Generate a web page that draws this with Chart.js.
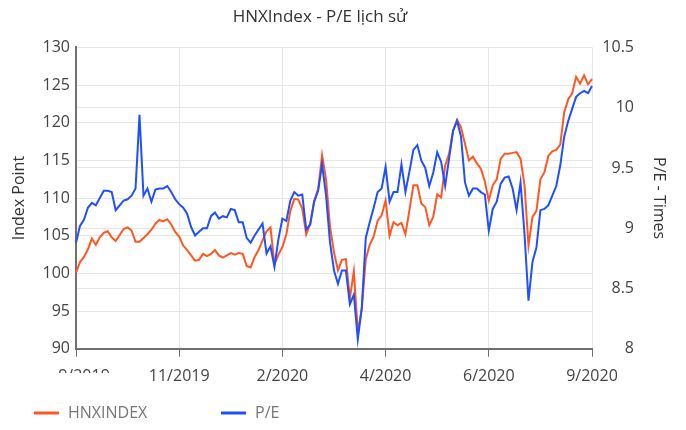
<!DOCTYPE html>
<html>
<head>
<meta charset="utf-8">
<script src="https://cdn.jsdelivr.net/npm/chart.js@4.4.1/dist/chart.umd.min.js"></script>
<style>
  html, body { margin: 0; padding: 0; background: #fff; }
</style>
</head>
<body>
<canvas id="chart" width="686" height="430"></canvas>
<script>
// Month labels shown on the x axis, one every tickEvery points.
const tickLabels = ["9/2019", "11/2019", "2/2020", "4/2020", "6/2020", "9/2020"];
const tickEvery = 26;

// HNXINDEX close (left axis).
const hnxIndex = [
  100.1, 101.5, 102.2, 103.2, 104.6, 103.8, 104.8, 105.4, 105.6, 104.8,
  104.3, 105.1, 105.9, 106.1, 105.7, 104.2, 104.2, 104.7, 105.2, 105.8,
  106.6, 107.1, 106.9, 107.2, 106.5, 105.5, 104.9, 103.7, 103.1, 102.4,
  101.7, 101.8, 102.6, 102.3, 102.6, 103.1, 102.4, 102.1, 102.4, 102.7,
  102.5, 102.7, 102.6, 101.0, 100.8, 102.2, 103.1, 104.4, 105.6, 106.1,
  101.2, 102.5, 103.5, 105.2, 108.3, 109.9, 109.8, 108.6, 105.2, 106.6,
  109.6, 111.2, 115.7, 112.5, 106.2, 102.8, 100.4, 101.8, 101.9, 96.7,
  100.3, 92.2, 95.3, 101.9, 103.8, 104.9, 107.0, 107.7, 109.7, 105.0,
  106.8, 106.4, 106.7, 105.2, 108.4, 111.7, 111.7, 109.3, 108.8, 106.4,
  107.5, 110.5, 110.1, 114.3, 115.9, 118.9, 120.4, 119.4, 117.2, 115.0,
  115.5, 114.6, 113.9, 112.2, 109.7, 111.7, 112.5, 115.2, 115.9, 115.9,
  116.0, 116.1, 115.2, 111.7, 103.7, 107.5, 108.3, 112.5, 113.4, 115.6,
  116.2, 116.4, 117.1, 121.4, 123.1, 123.9, 126.1, 125.2, 126.3, 125.1,
  125.8
];

// P/E (right axis).
const peRatio = [
  8.88, 9.02, 9.07, 9.17, 9.21, 9.19, 9.25, 9.31, 9.31, 9.30,
  9.15, 9.19, 9.23, 9.24, 9.27, 9.33, 9.94, 9.27, 9.33, 9.22,
  9.32, 9.33, 9.33, 9.35, 9.30, 9.24, 9.20, 9.17, 9.12, 9.01,
  8.94, 8.97, 9.00, 9.00, 9.10, 9.13, 9.08, 9.10, 9.09, 9.16,
  9.15, 9.05, 9.05, 8.92, 8.88, 8.94, 8.99, 9.04, 8.79, 8.85,
  8.68, 8.91, 9.08, 9.06, 9.23, 9.30, 9.27, 9.28, 8.99, 9.03,
  9.22, 9.31, 9.53, 9.27, 8.88, 8.65, 8.54, 8.65, 8.65, 8.37,
  8.45, 8.08, 8.34, 8.92, 9.05, 9.17, 9.30, 9.33, 9.51, 9.22,
  9.30, 9.30, 9.53, 9.30, 9.47, 9.65, 9.69, 9.56, 9.50, 9.35,
  9.46, 9.63, 9.55, 9.35, 9.58, 9.81, 9.89, 9.76, 9.38, 9.27,
  9.33, 9.33, 9.30, 9.28, 8.98, 9.16, 9.22, 9.37, 9.42, 9.43,
  9.33, 9.15, 9.38, 8.95, 8.40, 8.72, 8.84, 9.15, 9.16, 9.19,
  9.27, 9.35, 9.52, 9.76, 9.89, 9.99, 10.09, 10.12, 10.14, 10.12,
  10.18
];

const seriesNames = ["HNXINDEX", "P/E"];
const seriesColors = ["#ff5722", "#1f4fff"];
const rightTitle = "P/E - Times";
const points = hnxIndex.map((_, i) => i);

const FONT = "'Open Sans', 'Noto Sans', sans-serif";
const gridColor = "#e6e6e6";
const axisColor = "#707070";

// Legend drawn under the chart, wide fixed spacing like the original.
const bottomLegend = {
  id: "bottomLegend",
  afterDraw(chart) {
    const ctx = chart.ctx;
    ctx.save();
    ctx.font = "16px " + FONT;
    ctx.textBaseline = "middle";
    chart.data.datasets.forEach((ds, i) => {
      const x = 34 + i * 187, y = 413;
      ctx.strokeStyle = ds.borderColor;
      ctx.lineWidth = 3;
      ctx.beginPath();
      ctx.moveTo(x, y);
      ctx.lineTo(x + 25, y);
      ctx.stroke();
      ctx.fillStyle = "#777";
      ctx.fillText(ds.label, x + 34, y);
    });
    ctx.restore();
  }
};

// Right axis title sits outside the right-aligned tick labels.
const rightAxisTitle = {
  id: "rightAxisTitle",
  afterDraw(chart) {
    const ctx = chart.ctx;
    const area = chart.chartArea;
    ctx.save();
    ctx.translate(659, (area.top + area.bottom) / 2);
    ctx.rotate(Math.PI / 2);
    ctx.font = "16px " + FONT;
    ctx.fillStyle = "#333";
    ctx.textAlign = "center";
    ctx.textBaseline = "middle";
    ctx.fillText(rightTitle, 0, 0);
    ctx.restore();
  }
};

// The first month label is mostly hidden in the original, only its top shows.
const firstTickFragment = {
  id: "firstTickFragment",
  afterDraw(chart) {
    const ctx = chart.ctx;
    const x = chart.scales.x.getPixelForValue(0) + 8;
    ctx.save();
    ctx.beginPath();
    ctx.rect(0, 360, 200, 13);
    ctx.clip();
    ctx.font = "16px " + FONT;
    ctx.fillStyle = "#444";
    ctx.textAlign = "center";
    ctx.textBaseline = "middle";
    ctx.fillText(tickLabels[0], x, 376);
    ctx.restore();
  }
};

new Chart(document.getElementById("chart"), {
  type: "line",
  data: {
    labels: points,
    datasets: [
      {
        label: seriesNames[0],
        data: hnxIndex,
        yAxisID: "y",
        borderColor: seriesColors[0],
        backgroundColor: seriesColors[0],
        borderWidth: 2,
        pointRadius: 0,
        tension: 0,
        order: 2
      },
      {
        label: seriesNames[1],
        data: peRatio,
        yAxisID: "y1",
        borderColor: seriesColors[1],
        backgroundColor: seriesColors[1],
        borderWidth: 2,
        pointRadius: 0,
        tension: 0,
        order: 1
      }
    ]
  },
  options: {
    responsive: false,
    animation: false,
    layout: { padding: { left: 6, right: 52, top: 0, bottom: 34 } },
    plugins: {
      legend: { display: false },
      tooltip: { enabled: false },
      title: {
        display: true,
        text: "HNXIndex - P/E lịch sử",
        color: "#333",
        font: { family: FONT, size: 17, weight: "normal" },
        padding: { top: 7, bottom: 20 }
      }
    },
    scales: {
      x: {
        type: "category",
        grid: { color: gridColor, tickColor: axisColor, tickLength: 8 },
        border: { color: axisColor, width: 2 },
        ticks: {
          autoSkip: false,
          maxRotation: 0,
          padding: 10,
          color: "#444",
          font: { family: FONT, size: 16 },
          callback: (v, i) => {
            if (i % tickEvery !== 0) return null;
            return i === 0 ? "" : tickLabels[i / tickEvery];
          }
        }
      },
      y: {
        position: "left",
        min: 90,
        max: 130,
        grid: { color: gridColor, drawTicks: false },
        border: { color: axisColor, width: 2 },
        ticks: { stepSize: 5, padding: 6, color: "#444", font: { family: FONT, size: 16 } },
        title: {
          display: true,
          text: "Index Point",
          color: "#333",
          font: { family: FONT, size: 16 },
          padding: { top: 4, bottom: 4 }
        },
        afterFit: s => { s.width = 70; }
      },
      y1: {
        position: "right",
        min: 8,
        max: 10.5,
        grid: { color: gridColor, drawTicks: false },
        border: { display: false },
        ticks: {
          stepSize: 0.5,
          padding: 10,
          crossAlign: "far",
          color: "#444",
          font: { family: FONT, size: 16 },
          callback: v => String(v)
        },
        afterFit: s => { s.width = 42; }
      }
    }
  },
  plugins: [bottomLegend, rightAxisTitle, firstTickFragment]
});
</script>
</body>
</html>
